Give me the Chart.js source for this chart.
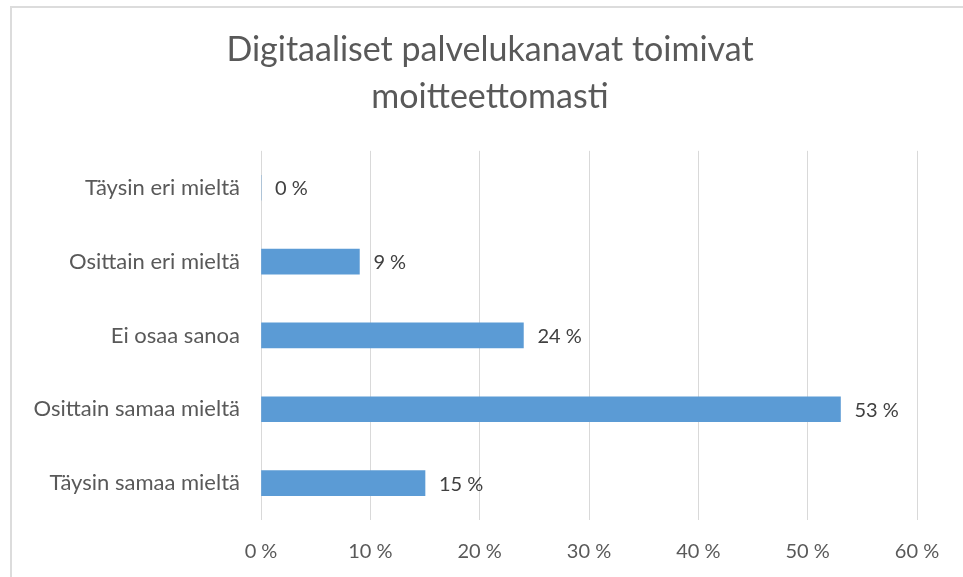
<!DOCTYPE html>
<html>
<head>
<meta charset="utf-8">
<script src="https://cdn.jsdelivr.net/npm/chart.js"></script>
<style>
  body { margin: 0; background: #fff; }
  .frame {
    position: absolute; left: 10px; top: 6px; width: 980px; height: 600px;
    border-top: 2px solid #dcdcdc; border-left: 2px solid #dcdcdc;
  }
  #chart { position: absolute; left: 0; top: 0; }
</style>
</head>
<body>
<div class="frame"></div>
<canvas id="chart" width="963" height="577"></canvas>
<script>
  const categories = ['Täysin eri mieltä', 'Osittain eri mieltä', 'Ei osaa sanoa', 'Osittain samaa mieltä', 'Täysin samaa mieltä'];
  const values = [0, 9, 24, 53, 15];
  const xTicks = [0, 10, 20, 30, 40, 50, 60];
  const titleLines = ['Digitaaliset palvelukanavat toimivat', 'moitteettomasti'];

  // arvot palkkien perään
  const valueLabels = {
    id: 'valueLabels',
    afterLayout(chart) {
      // otsikko keskelle koko kehystä, ei vain piirtoaluetta
      if (chart.titleBlock) {
        chart.titleBlock.left = 18;
        chart.titleBlock.right = 962;
      }
    },
    afterDatasetsDraw(chart) {
      const ctx = chart.ctx;
      const meta = chart.getDatasetMeta(0);
      ctx.save();
      ctx.font = '20px Lato';
      ctx.fillStyle = '#404040';
      ctx.textBaseline = 'middle';
      meta.data.forEach((bar, i) => {
        ctx.fillText(values[i] + ' %', bar.x + 14, bar.y + 1);
      });
      ctx.restore();
    }
  };

  new Chart(document.getElementById('chart'), {
    type: 'bar',
    data: {
      labels: categories,
      datasets: [{
        data: values,
        backgroundColor: '#5b9bd5',
        barThickness: 25
      }]
    },
    options: {
      indexAxis: 'y',
      responsive: false,
      animation: false,
      layout: { padding: { left: 18, right: 46, top: 0, bottom: 0 } },
      plugins: {
        legend: { display: false },
        tooltip: { enabled: false },
        title: {
          display: true,
          text: titleLines,
          color: '#595959',
          font: { family: 'Lato', size: 34, weight: 'normal', lineHeight: 1.38 },
          padding: { top: 27, bottom: 30 }
        }
      },
      scales: {
        x: {
          min: 0,
          max: 60,
          afterBuildTicks(scale) { scale.ticks = xTicks.map(v => ({ value: v })); },
          afterFit(scale) { scale.height = 57; },
          grid: { color: '#d9d9d9', lineWidth: 1, drawTicks: false },
          border: { display: false },
          ticks: {
            padding: 20,
            color: '#595959',
            font: { family: 'Lato', size: 20 },
            callback: v => v + ' %'
          }
        },
        y: {
          afterFit(scale) { scale.width = 243; },
          grid: { display: false, drawTicks: false },
          border: { display: false },
          ticks: {
            padding: 21,
            color: '#595959',
            font: { family: 'Lato', size: 22 }
          }
        }
      }
    },
    plugins: [valueLabels]
  });
</script>
</body>
</html>
